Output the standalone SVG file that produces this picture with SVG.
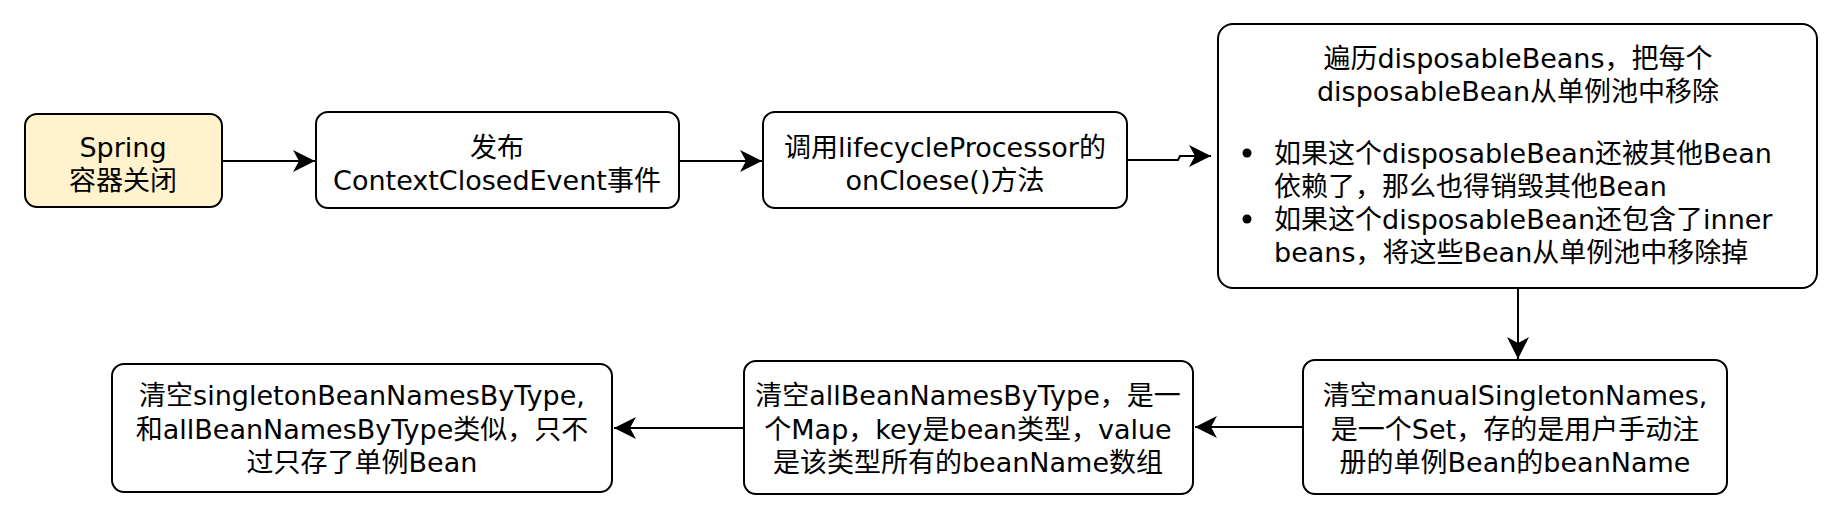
<svg xmlns="http://www.w3.org/2000/svg" width="1828" height="514" viewBox="0 0 1828 514">
<defs>
<style>
.box{fill:#ffffff;stroke:#000000;stroke-width:2}
.start{fill:#fff2cc}
.t{font-family:"DejaVu Sans","Noto Sans CJK SC",sans-serif;font-size:27px;fill:#000000}
.c{text-anchor:middle}
.edge{fill:none;stroke:#000000;stroke-width:2}
</style>
<marker id="arr" viewBox="0 0 22 22" refX="22" refY="11" markerWidth="22" markerHeight="22" markerUnits="userSpaceOnUse" orient="auto">
<path d="M22,11 L0,0 L6,11 L0,22 Z" fill="#000000"/>
</marker>
</defs>
<rect width="1828" height="514" fill="#ffffff"/>
<g id="connectors">
<path class="edge" d="M222,161 L315,161" marker-end="url(#arr)"/>
<path class="edge" d="M679,161 L762,161" marker-end="url(#arr)"/>
<path class="edge" d="M1127,160 L1178,160 L1180,156 L1211,156" marker-end="url(#arr)"/>
<path class="edge" d="M1518,288 L1518,359" marker-end="url(#arr)"/>
<path class="edge" d="M1303,427 L1195,427" marker-end="url(#arr)"/>
<path class="edge" d="M744,428 L614,428" marker-end="url(#arr)"/>
</g>
<g id="node-spring-close">
<rect class="box start" x="25" y="114" width="197" height="93" rx="12"/>
<text class="t c" x="123" y="157">Spring</text>
<text class="t c" x="123" y="190">容器关闭</text>
</g>
<g id="node-publish-event">
<rect class="box" x="316" y="112" width="363" height="96" rx="12"/>
<text class="t c" x="497" y="157">发布</text>
<text class="t c" x="497" y="190">ContextClosedEvent事件</text>
</g>
<g id="node-lifecycle">
<rect class="box" x="763" y="112" width="364" height="96" rx="12"/>
<text class="t c" x="945" y="157">调用lifecycleProcessor的</text>
<text class="t c" x="945" y="190">onCloese()方法</text>
</g>
<g id="node-disposable">
<rect class="box" x="1218" y="24" width="599" height="264" rx="15"/>
<text class="t c" x="1518" y="68">遍历disposableBeans，把每个</text>
<text class="t c" x="1518" y="101">disposableBean从单例池中移除</text>
<circle cx="1247" cy="153" r="4.5" fill="#000000"/>
<text class="t" x="1274" y="163">如果这个disposableBean还被其他Bean</text>
<text class="t" x="1274" y="196">依赖了，那么也得销毁其他Bean</text>
<circle cx="1247" cy="219" r="4.5" fill="#000000"/>
<text class="t" x="1274" y="229">如果这个disposableBean还包含了inner</text>
<text class="t" x="1274" y="262">beans，将这些Bean从单例池中移除掉</text>
</g>
<g id="node-manual-singleton">
<rect class="box" x="1303" y="360" width="424" height="134" rx="12"/>
<text class="t c" x="1515" y="405">清空manualSingletonNames,</text>
<text class="t c" x="1515" y="439">是一个Set，存的是用户手动注</text>
<text class="t c" x="1515" y="472">册的单例Bean的beanName</text>
</g>
<g id="node-all-bean-names">
<rect class="box" x="744" y="361" width="449" height="133" rx="12"/>
<text class="t c" x="968" y="405">清空allBeanNamesByType，是一</text>
<text class="t c" x="968" y="439">个Map，key是bean类型，value</text>
<text class="t c" x="968" y="472">是该类型所有的beanName数组</text>
</g>
<g id="node-singleton-bean-names">
<rect class="box" x="112" y="364" width="500" height="128" rx="12"/>
<text class="t c" x="362" y="405">清空singletonBeanNamesByType,</text>
<text class="t c" x="362" y="439">和allBeanNamesByType类似，只不</text>
<text class="t c" x="362" y="472">过只存了单例Bean</text>
</g>
</svg>
